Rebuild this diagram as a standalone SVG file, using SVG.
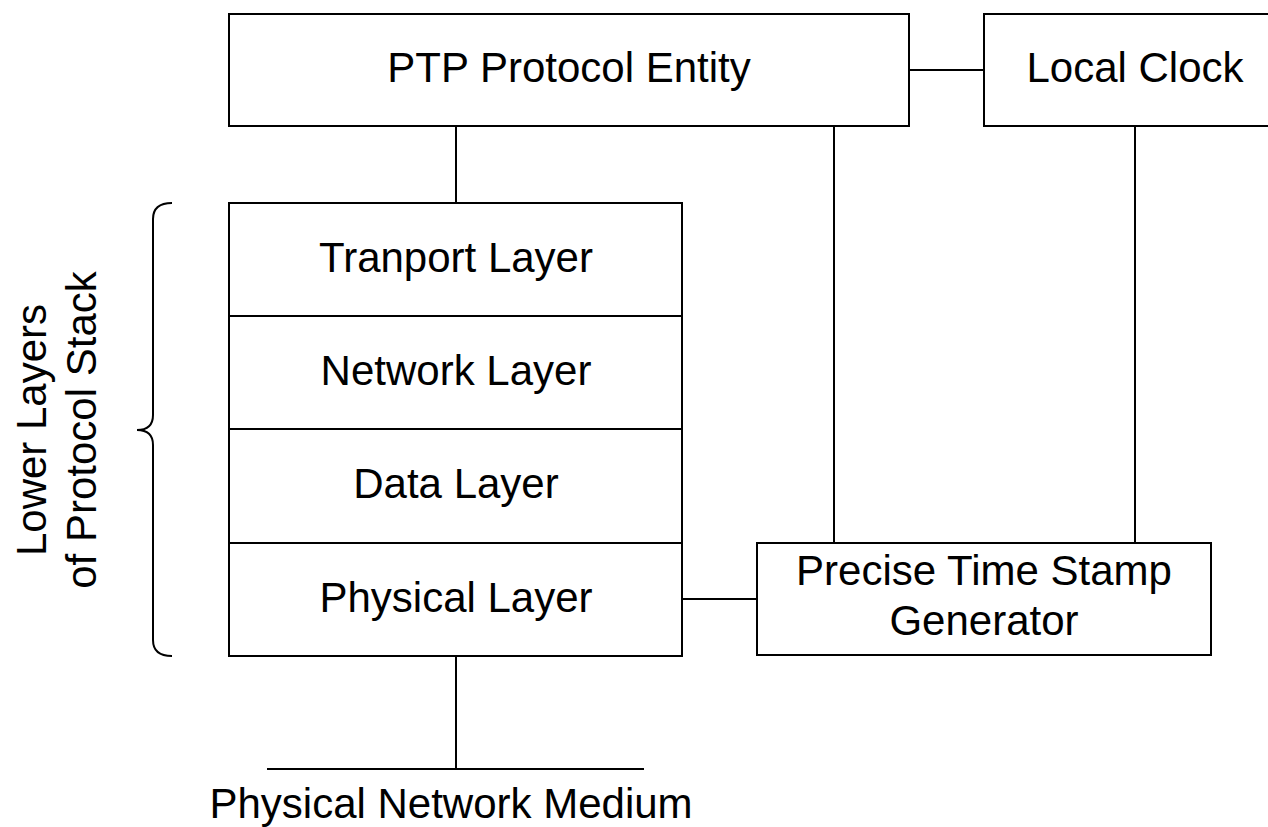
<svg xmlns="http://www.w3.org/2000/svg" width="1268" height="827" viewBox="0 0 1268 827">
  <style>
    .box { fill: #ffffff; stroke: #000000; stroke-width: 2; }
    .wire { fill: none; stroke: #000000; stroke-width: 2; }
    .label { font-family: "Liberation Sans", Arial, sans-serif; font-size: 42px; fill: #000000; text-anchor: middle; }
  </style>
  <rect width="1268" height="827" fill="#ffffff"/>

  <!-- connectors -->
  <g id="connectors">
    <line class="wire" x1="909" y1="70" x2="984" y2="70"/>
    <line class="wire" x1="456" y1="126" x2="456" y2="203"/>
    <line class="wire" x1="834" y1="126" x2="834" y2="543"/>
    <line class="wire" x1="1135" y1="126" x2="1135" y2="543"/>
    <line class="wire" x1="682" y1="599" x2="757" y2="599"/>
    <line class="wire" x1="456" y1="656" x2="456" y2="769"/>
    <line class="wire" x1="267" y1="769" x2="644" y2="769"/>
  </g>

  <g id="ptp-entity">
    <rect class="box" x="229" y="14" width="680" height="112"/>
    <text class="label" x="569" y="82">PTP Protocol Entity</text>
  </g>

  <g id="local-clock">
    <rect class="box" x="984" y="14" width="302" height="112"/>
    <text class="label" x="1135" y="82">Local Clock</text>
  </g>

  <g id="transport-layer">
    <rect class="box" x="229" y="203" width="453" height="113"/>
    <text class="label" x="456" y="272">Tranport Layer</text>
  </g>

  <g id="network-layer">
    <rect class="box" x="229" y="316" width="453" height="113"/>
    <text class="label" x="456" y="385">Network Layer</text>
  </g>

  <g id="data-layer">
    <rect class="box" x="229" y="429" width="453" height="114"/>
    <text class="label" x="456" y="498">Data Layer</text>
  </g>

  <g id="physical-layer">
    <rect class="box" x="229" y="543" width="453" height="113"/>
    <text class="label" x="456" y="612">Physical Layer</text>
  </g>

  <g id="timestamp-generator">
    <rect class="box" x="757" y="543" width="454" height="112"/>
    <text class="label" x="984" y="585">Precise Time Stamp</text>
    <text class="label" x="984" y="635">Generator</text>
  </g>

  <g id="network-medium">
    <text class="label" x="451" y="818">Physical Network Medium</text>
  </g>

  <!-- brace grouping the lower layers -->
  <g id="lower-layers">
    <path class="wire" d="M172,203 Q153,203 153,219 L153,415 Q153,430 137,430 Q153,430 153,445 L153,640 Q153,656 172,656"/>
    <text class="label" transform="translate(46,430) rotate(-90)">Lower Layers</text>
    <text class="label" transform="translate(96,430) rotate(-90)">of Protocol Stack</text>
  </g>
</svg>
